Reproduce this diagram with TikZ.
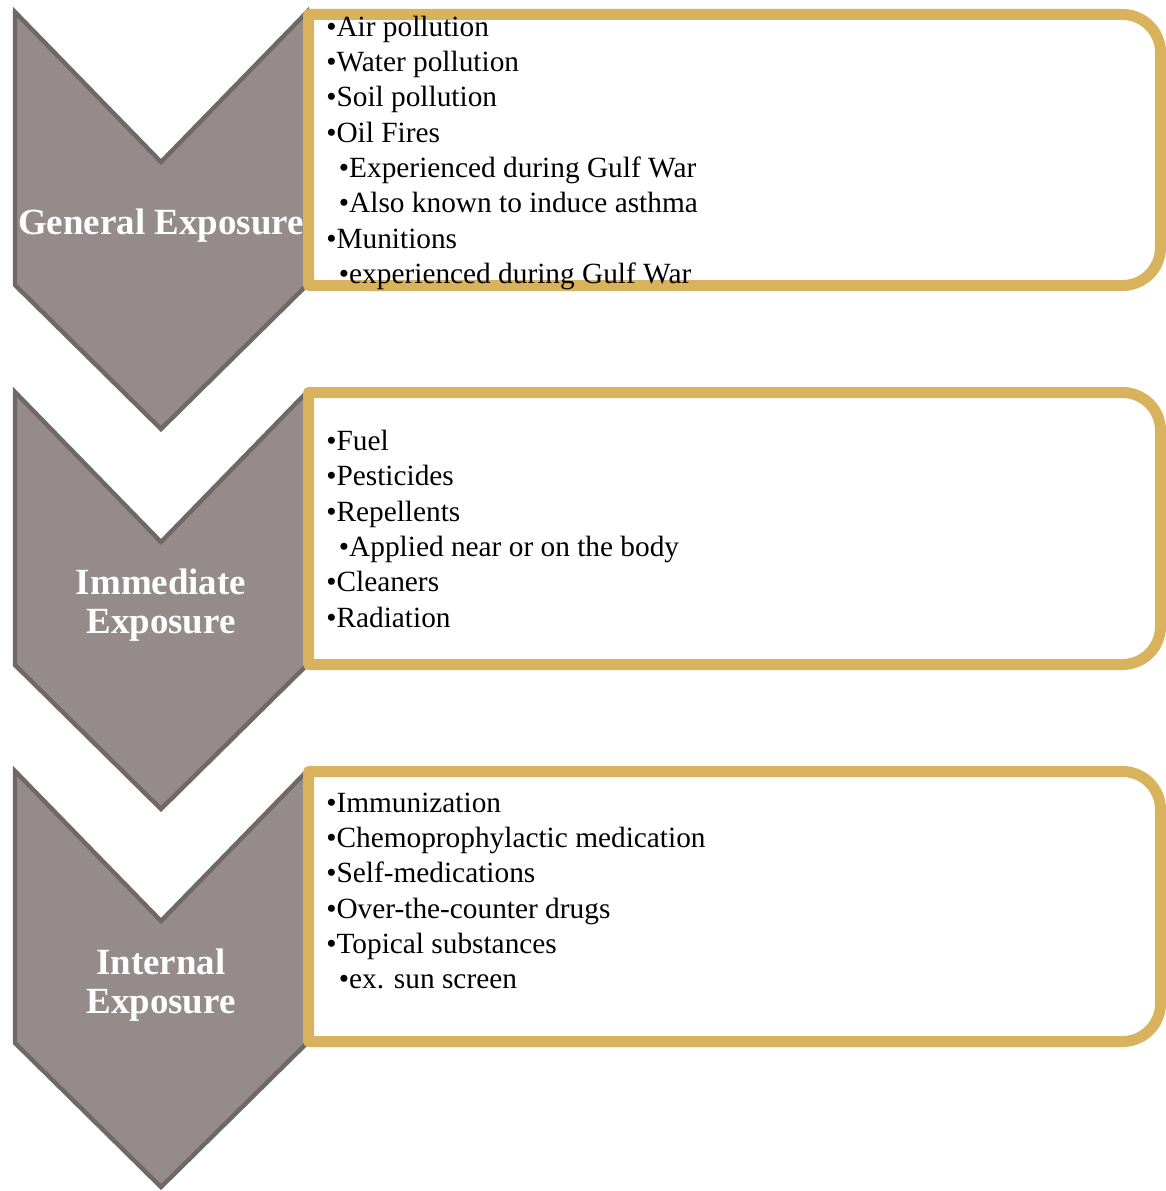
\documentclass[tikz,border=0pt]{standalone}
\usepackage{fontspec}
\setmainfont{Liberation Serif}
\definecolor{chevfill}{RGB}{148,139,138}
\definecolor{chevline}{RGB}{112,103,103}
\definecolor{gold}{RGB}{216,178,92}
\tikzset{
  chev/.style={fill=chevfill, draw=chevline, line width=3.3pt, line join=miter},
  goldbox/.style={draw=gold, fill=white, line width=8.25pt, line join=round},
  lbl/.style={text=white, font=\bfseries\fontsize{27.7pt}{29pt}\selectfont, align=center, inner sep=0pt},
  lst/.style={anchor=north west, align=left, inner sep=0pt, font=\fontsize{22pt}{26.5pt}\selectfont}
}
\newcommand{\sub}{\hspace*{9.5pt}}
\begin{document}
\begin{tikzpicture}[x=0.75pt,y=-0.75pt]
\useasboundingbox (0,0) rectangle (1166,1191);
% chevrons
\draw[chev] (15,12) -- (161,162) -- (307,12) -- (307,285) -- (161,429) -- (15,285) -- cycle;
\draw[chev] (15,392) -- (161,542) -- (307,392) -- (307,665) -- (161,809) -- (15,665) -- cycle;
\draw[chev] (15,771) -- (161,921) -- (307,771) -- (307,1043) -- (161,1187) -- (15,1043) -- cycle;
% boxes
\draw[goldbox] (308.5,285.5) -- (308.5,14.5) -- (1122.5,14.5) .. controls (1143.5,14.5) and (1160.5,31.5) .. (1160.5,52.5) -- (1160.5,247.5) .. controls (1160.5,268.5) and (1143.5,285.5) .. (1122.5,285.5) -- cycle;
\draw[goldbox] (308.5,664.5) -- (308.5,392.5) -- (1122.5,392.5) .. controls (1143.5,392.5) and (1160.5,409.5) .. (1160.5,430.5) -- (1160.5,626.5) .. controls (1160.5,647.5) and (1143.5,664.5) .. (1122.5,664.5) -- cycle;
\draw[goldbox] (308.5,1041.5) -- (308.5,771.5) -- (1122.5,771.5) .. controls (1143.5,771.5) and (1160.5,788.5) .. (1160.5,809.5) -- (1160.5,1003.5) .. controls (1160.5,1024.5) and (1143.5,1041.5) .. (1122.5,1041.5) -- cycle;
% labels
\node[lbl] (g) at (161,226) {General Exposure};
\node[lbl] (im) at (161,605) {Immediate\\Exposure};
\node[lbl] (in) at (161,985) {Internal\\Exposure};
% lists
\node[lst] (l1) at (326,15.5) {•Air pollution\\•Water pollution\\•Soil pollution\\•Oil Fires\\\sub•Experienced during Gulf War\\\sub•Also known to induce asthma\\•Munitions\\\sub•experienced during Gulf War};
\node[lst] (l2) at (326,430) {•Fuel\\•Pesticides\\•Repellents\\\sub•Applied near or on the body\\•Cleaners\\•Radiation};
\node[lst] (l3) at (326,792.5) {•Immunization\\•Chemoprophylactic medication\\•Self-medications\\•Over-the-counter drugs\\•Topical substances\\\sub•ex. sun screen};
\end{tikzpicture}
\end{document}
